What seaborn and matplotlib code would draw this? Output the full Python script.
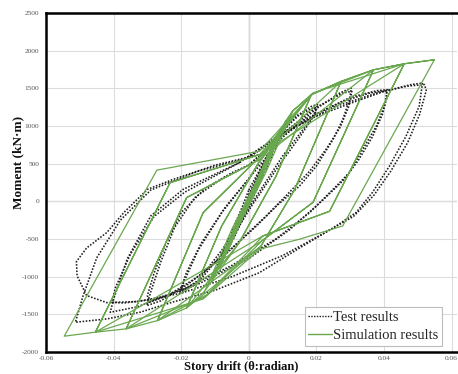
import matplotlib
matplotlib.use("Agg")
import matplotlib.pyplot as plt
import pandas as pd
import seaborn as sns
from matplotlib.lines import Line2D

# ---- Test results: cyclic loops (story drift in rad, moment in kN·m) ----
test_c1_x = [0.0, 0.0025, 0.0050, 0.0030, 0.0005, -0.0025, -0.0050, -0.0030, -0.0005, 0.0]
test_c1_y = [0, 280, 520, 320, 20, -280, -500, -300, -10, 60]
test_c2_x = [0.0, 0.0040, 0.0075, 0.0050, 0.0010, -0.0040, -0.0075, -0.0050, -0.0010, 0.0]
test_c2_y = [60, 450, 760, 480, 60, -440, -740, -460, -40, 90]
test_c3_x = [0.0, 0.0050, 0.0100, 0.0070, 0.0020, -0.0050, -0.0100, -0.0070, -0.0020, 0.0]
test_c3_y = [90, 560, 950, 620, 120, -540, -930, -600, -80, 150]
test_c4_x = [0.0, 0.0080, 0.0140, 0.0185, 0.0205, 0.0195, 0.0165, 0.0100, 0.0020,
             -0.0080, -0.0150, -0.0190, -0.0204, -0.0190, -0.0150, -0.0080, 0.0]
test_c4_y = [150, 820, 1130, 1260, 1290, 1150, 980, 600, 50,
             -650, -1050, -1170, -1204, -1050, -650, -150, 300]
test_c4b_x = [0.0, 0.0080, 0.0150, 0.0195, 0.0200, 0.0185, 0.0150, 0.0090, 0.0010,
              -0.0080, -0.0150, -0.0195, -0.0200, -0.0185, -0.0140, -0.0070, 0.0]
test_c4b_y = [300, 850, 1150, 1250, 1230, 1080, 850, 480, -50,
              -700, -1080, -1200, -1150, -950, -550, -80, 300]
test_c5_x = [0.0, 0.0100, 0.0200, 0.0270, 0.0303, 0.0298, 0.0278, 0.0249, 0.0200, 0.0150,
             0.0082, 0.0023, -0.0080, -0.0180, -0.0260, -0.0302, -0.0290, -0.0260,
             -0.0220, -0.0160, -0.0080, 0.0]
test_c5_y = [300, 850, 1230, 1440, 1504, 1350, 1085, 820, 467, 203,
             -62, -326, -750, -1100, -1320, -1385, -1200, -800,
             -350, 50, 300, 480]
test_c5b_x = [0.0, 0.0100, 0.0200, 0.0280, 0.0305, 0.0295, 0.0270, 0.0230, 0.0180, 0.0120,
              0.0050, -0.0050, -0.0150, -0.0240, -0.0295, -0.0300, -0.0280, -0.0245,
              -0.0200, -0.0130, -0.0050, 0.0]
test_c5b_y = [480, 900, 1250, 1440, 1460, 1250, 980, 700, 400, 120,
              -200, -620, -1000, -1250, -1340, -1250, -950, -550,
              -150, 170, 380, 480]
test_c6_x = [0.0, 0.0100, 0.0200, 0.0300, 0.0380, 0.0410, 0.0401, 0.0377, 0.0337, 0.0298,
             0.0259, 0.0180, 0.0080, -0.0050, -0.0200, -0.0330, -0.0410, -0.0400,
             -0.0360, -0.0290, -0.0194, -0.0027]
test_c6_y = [480, 870, 1160, 1380, 1470, 1482, 1261, 996, 688, 384,
             203, -150, -500, -850, -1180, -1400, -1473, -1300,
             -767, -194, 159, 516]
test_c6b_x = [-0.0027, 0.0080, 0.0180, 0.0280, 0.0360, 0.0405, 0.0410, 0.0395, 0.0365,
              0.0325, 0.0280, 0.0220, 0.0120, 0.0000, -0.0150, -0.0280, -0.0370, -0.0405,
              -0.0395, -0.0350, -0.0280, -0.0190, -0.0027]
test_c6b_y = [516, 850, 1120, 1330, 1440, 1470, 1400, 1150, 850,
              550, 280, 20, -380, -760, -1100, -1300, -1350, -1340,
              -1150, -700, -200, 120, 516]
test_c7_x = [-0.0027, 0.0100, 0.0200, 0.0300, 0.0400, 0.0480, 0.0514, 0.0504, 0.0465,
             0.0416, 0.0366, 0.0318, 0.0259, 0.0150, 0.0030, -0.0100, -0.0224, -0.0320,
             -0.0420, -0.0513, -0.0490, -0.0450, -0.0380, -0.0290, -0.0150, 0.0]
test_c7_y = [516, 900, 1130, 1300, 1460, 1550, 1570, 1261, 864,
             467, 119, -146, -326, -620, -950, -1180, -1336, -1470,
             -1561, -1605, -1250, -750, -250, 150, 400, 580]
test_c8_x = [0.0, 0.0120, 0.0250, 0.0380, 0.0470, 0.0520, 0.0525, 0.0505, 0.0470, 0.0420,
             0.0370, 0.0310, 0.0220, 0.0100, -0.0050, -0.0200, -0.0330, -0.0420, -0.0480,
             -0.0508, -0.0510, -0.0480, -0.0420, -0.0370, -0.0300, -0.0224, -0.0100, 0.0032]
test_c8_y = [580, 950, 1250, 1440, 1530, 1550, 1470, 1150, 780, 400,
             80, -200, -430, -720, -1000, -1220, -1330, -1345, -1250,
             -988, -800, -620, -414, -150, 159, 291, 480, 622]

# ---- Simulation results: piecewise-linear hysteresis model ----
sim_c1_x = [0.0, 0.0040, 0.0015, -0.0040, -0.0015, 0.0040, 0.0012, -0.0040, -0.0012, 0.0040]
sim_c1_y = [0, 430, 160, -420, -150, 430, 130, -420, -120, 430]
sim_c2_x = [0.0040, 0.0060, 0.0020, -0.0060, -0.0020, 0.0060, 0.0018, -0.0060, -0.0018, 0.0060]
sim_c2_y = [430, 640, 200, -630, -190, 640, 180, -630, -170, 640]
sim_c3_x = [0.0060, 0.0085, 0.0030, -0.0085, -0.0030, 0.0085, 0.0026, -0.0085, -0.0026, 0.0085]
sim_c3_y = [640, 880, 270, -870, -260, 880, 240, -870, -230, 880]
sim_c4_x = [0.0085, 0.0110, 0.0040, -0.0110, -0.0040, 0.0110, 0.0035, -0.0110, -0.0035, 0.0110]
sim_c4_y = [880, 1070, 330, -1060, -320, 1070, 290, -1060, -280, 1070]
sim_c5_x = [0.0110, 0.0130, 0.0050, -0.0130, -0.0050, 0.0130]
sim_c5_y = [1070, 1200, 380, -1190, -370, 1200]
sim_c6_x = [0.0130, 0.0185, 0.0080, -0.0030, -0.0130, -0.0184, -0.0080, 0.0030, 0.0130,
            0.0185, 0.0080, -0.0030, -0.0184, -0.0080, 0.0030, 0.0185]
sim_c6_y = [1200, 1416, 330, -560, -1190, -1415, -326, 520, 1200,
            1416, 330, -560, -1415, -326, 520, 1416]
sim_c7_x = [0.0185, 0.0273, 0.0135, 0.0035, -0.0110, -0.0184, -0.0270, -0.0135, 0.0030,
            0.0140, 0.0185, 0.0273, 0.0135, 0.0035, -0.0270, -0.0135, 0.0030, 0.0273]
sim_c7_y = [1416, 1592, 150, -600, -1150, -1415, -1583, -150, 580,
            1180, 1416, 1592, 150, -600, -1583, -150, 580, 1592]
sim_c8_x = [0.0273, 0.0369, 0.0190, 0.0040, -0.0120, -0.0270, -0.0363, -0.0184, 0.0032,
            0.0185, 0.0273, 0.0369, 0.0190, 0.0040, -0.0363, -0.0184, 0.0032, 0.0369]
sim_c8_y = [1592, 1746, -13, -520, -1230, -1583, -1693, 49, 555,
            1416, 1592, 1746, -13, -520, -1693, 49, 555, 1746]
sim_c9_x = [0.0369, 0.0460, 0.0239, 0.0042, -0.0130, -0.0363, -0.0454, -0.0233, 0.0032,
            0.0190, 0.0369, 0.0460, 0.0239, 0.0042, -0.0454, -0.0233, 0.0032, 0.0460]
sim_c9_y = [1746, 1826, -132, -459, -1270, -1693, -1737, 247, 620,
            1430, 1746, 1826, -132, -459, -1737, 247, 620, 1826]
sim_c10_x = [0.0460, 0.0549, 0.0278, 0.0150, 0.0032, -0.0135, -0.0454, -0.0546, -0.0272,
             0.0032, 0.0190, 0.0460, 0.0549]
sim_c10_y = [1826, 1879, -326, -503, -635, -1296, -1737, -1790, 414,
             666, 1440, 1826, 1879]

x_ticks = [-0.06, -0.04, -0.02, 0.0, 0.02, 0.04, 0.06]
x_tick_labels = ["-0.06", "-0.04", "-0.02", "0", "0.02", "0.04", "0.06"]
y_ticks = [-2000, -1500, -1000, -500, 0, 500, 1000, 1500, 2000, 2500]
y_tick_labels = ["-2000", "-1500", "-1000", "-500", "0", "500", "1000", "1500", "2000", "2500"]

test_cycles = [(test_c1_x, test_c1_y), (test_c2_x, test_c2_y), (test_c3_x, test_c3_y),
               (test_c4_x, test_c4_y), (test_c4b_x, test_c4b_y), (test_c5_x, test_c5_y),
               (test_c5b_x, test_c5b_y), (test_c6_x, test_c6_y), (test_c6b_x, test_c6b_y),
               (test_c7_x, test_c7_y), (test_c8_x, test_c8_y)]
sim_cycles = [(sim_c1_x, sim_c1_y), (sim_c2_x, sim_c2_y), (sim_c3_x, sim_c3_y),
              (sim_c4_x, sim_c4_y), (sim_c5_x, sim_c5_y), (sim_c6_x, sim_c6_y),
              (sim_c7_x, sim_c7_y), (sim_c8_x, sim_c8_y), (sim_c9_x, sim_c9_y),
              (sim_c10_x, sim_c10_y)]


def to_frame(cycles):
    rows = []
    for i, (xs, ys) in enumerate(cycles):
        for x, y in zip(xs, ys):
            rows.append((x, y, i))
    return pd.DataFrame(rows, columns=["drift", "moment", "cycle"])


test_df = to_frame(test_cycles)
sim_df = to_frame(sim_cycles)

sns.set_theme(style="white")
plt.rcParams["font.family"] = ["Liberation Serif", "DejaVu Serif"]

TEST_COLOR = "#1e1e1e"
SIM_COLOR = "#6aa84f"

fig = plt.figure(figsize=(4.58, 3.74), dpi=100)
ax = fig.add_axes([46 / 458, 22 / 374, (457 - 46) / 458, (352 - 13) / 374])

ax.set_xlim(-0.06, 0.0616)
ax.set_ylim(-2000, 2500)
ax.set_xticks(x_ticks)
ax.set_xticklabels(x_tick_labels)
ax.set_yticks(y_ticks)
ax.set_yticklabels(y_tick_labels)
ax.grid(True, color="#dcdcdc", lw=0.8)
ax.set_axisbelow(True)
ax.axhline(0, color="#cfcfcf", lw=0.9, zorder=0.5)
ax.axvline(0, color="#b4b4b4", lw=1.0, zorder=0.5)

sns.lineplot(data=test_df, x="drift", y="moment", units="cycle", estimator=None,
             sort=False, color=TEST_COLOR, linestyle=(0, (1, 1)), lw=1.15, ax=ax,
             legend=False)
sns.lineplot(data=sim_df, x="drift", y="moment", units="cycle", estimator=None,
             sort=False, color=SIM_COLOR, lw=0.9, ax=ax, legend=False)

ax.tick_params(axis="both", length=0, labelsize=5.3, labelcolor="#555555")
ax.tick_params(axis="x", pad=3)
ax.tick_params(axis="y", pad=5)

for side in ("left", "top", "bottom"):
    ax.spines[side].set_color("black")
    ax.spines[side].set_linewidth(1.8)
ax.spines["right"].set_visible(False)

ax.set_xlabel("Story drift (θ:radian)", fontsize=9, fontweight="bold", color="#111111")
ax.set_ylabel("Moment (kN·m)", fontsize=9.5, fontweight="bold", color="#111111")
ax.xaxis.set_label_coords(0.475, -0.026)
ax.yaxis.set_label_coords(-0.052, 0.56)

handles = [Line2D([], [], color=TEST_COLOR, linestyle=(0, (1, 1)), lw=1.0),
           Line2D([], [], color=SIM_COLOR, lw=1.0)]
leg = ax.legend(handles, ["Test results", "Simulation results"], loc="lower right",
                bbox_to_anchor=((442 - 46) / 411, 6 / 339), borderaxespad=0,
                fontsize=10.5, frameon=True, fancybox=False, framealpha=1,
                edgecolor="#bdbdbd", handlelength=1.6, handletextpad=0.1,
                borderpad=0.25, labelspacing=0.35)
leg.get_frame().set_linewidth(0.8)

fig.savefig("out.png", dpi=100)
